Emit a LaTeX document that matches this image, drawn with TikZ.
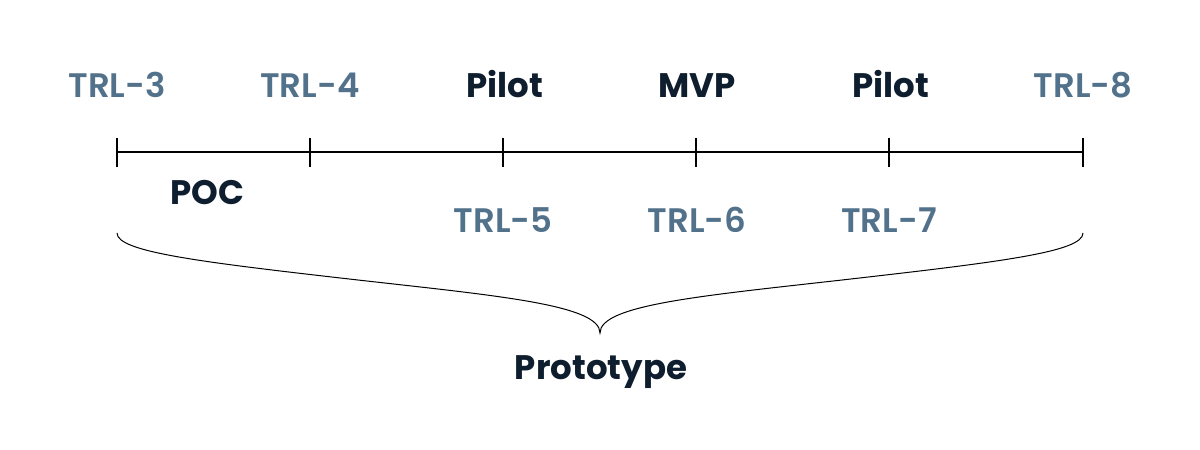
\documentclass[tikz,border=0pt]{standalone}
\usepackage{fontspec}
\setmainfont{Poppins}[UprightFont=* SemiBold, BoldFont=* Bold]
\definecolor{trl}{HTML}{52718B}
\definecolor{dark}{HTML}{0E1E2E}
\begin{document}
\begin{tikzpicture}[x=1pt,y=-1pt,
  trllab/.style={anchor=base,text=trl,font=\fontsize{34}{40}\selectfont,inner sep=0pt},
  darklab/.style={anchor=base,text=dark,font=\fontsize{34}{40}\selectfont\bfseries,inner sep=0pt},
  axis/.style={draw=black,line width=1.5pt},
  bracel/.style={draw=black,line width=1pt}]
\useasboundingbox (0,0) rectangle (1200,450);
% ticks
\foreach \n/\x in {t1/117,t2/310,t3/503,t4/696,t5/889,t6/1083}{
  \coordinate (\n) at (\x,152);
  \coordinate (\n a) at (\x,138);
  \coordinate (\n b) at (\x,167);
  \draw[axis] (\n a) -- (\n b);
}
\draw[axis] (t1) -- (t6);
% top labels
\node[trllab] (l3) at (117,97) {TRL-3};
\node[trllab] (l4) at (310,97) {TRL-4};
\node[darklab] (p1) at (505,97) {Pilot};
\node[darklab] (mvp) at (697,97) {MVP};
\node[darklab] (p2) at (891,97) {Pilot};
\node[trllab] (l8) at (1083,97) {TRL-8};
% bottom labels
\node[darklab] (poc) at (207,204) {POC};
\node[trllab] (l5) at (503,232) {TRL-5};
\node[trllab] (l6) at (697,232) {TRL-6};
\node[trllab] (l7) at (889,232) {TRL-7};
% brace
\coordinate (bl) at (117,233);
\coordinate (bm1) at (358,280);
\coordinate (tip) at (600,333);
\coordinate (bm2) at (842,280);
\coordinate (br) at (1083,233);
\draw[bracel] (bl) .. controls (117,252) and (200,262) .. (bm1)
  .. controls (500,296) and (600,305) .. (tip)
  .. controls (600,305) and (700,296) .. (bm2)
  .. controls (1000,262) and (1083,252) .. (br);
\node[darklab] (proto) at (601,379) {Prototype};
\end{tikzpicture}
\end{document}
